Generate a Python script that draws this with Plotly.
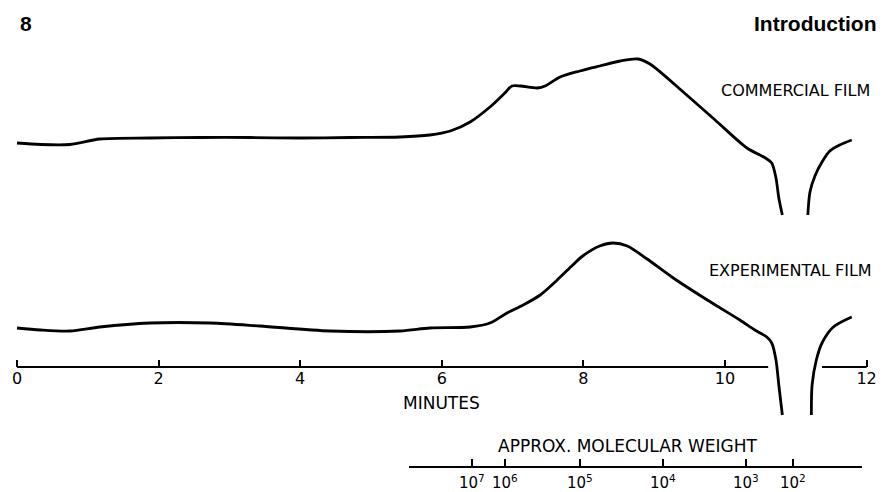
import plotly.graph_objects as go

# ---------- DATA ----------
# time in minutes, response in arbitrary detector units

commercial_t = [0.0, 0.33, 0.75, 1.17, 1.88, 2.59, 3.29, 4.00, 4.70, 5.41, 5.83,
                6.12, 6.40, 6.68, 6.89, 6.99, 7.11, 7.35, 7.46, 7.67, 7.95, 8.23,
                8.52, 8.77, 8.94, 9.41, 9.86, 10.31, 10.57, 10.66, 10.72, 10.76, 10.81]
commercial_r = [34.9, 34.75, 34.75, 35.3, 35.4, 35.45, 35.45, 35.4, 35.45, 35.5, 35.7,
                36.1, 37.0, 38.5, 39.9, 40.6, 40.6, 40.4, 40.6, 41.5, 42.1, 42.6,
                43.1, 43.3, 42.8, 40.0, 37.2, 34.4, 33.4, 32.9, 31.4, 29.4, 27.7]
commercial_t2 = [11.17, 11.20, 11.27, 11.37, 11.48, 11.62, 11.79]
commercial_r2 = [27.7, 30.0, 31.6, 33.0, 34.1, 34.7, 35.2]

experimental_t = [0.0, 0.33, 0.75, 1.17, 1.88, 2.73, 3.43, 4.42, 5.41, 5.83, 6.40,
                  6.68, 6.92, 7.15, 7.39, 7.63, 7.85, 7.99, 8.23, 8.42, 8.62, 8.90,
                  9.27, 9.75, 10.21, 10.42, 10.59, 10.66, 10.72, 10.76, 10.81]
experimental_r = [16.4, 16.2, 16.1, 16.5, 16.9, 16.9, 16.6, 16.1, 16.1, 16.4, 16.5,
                  16.9, 17.9, 18.7, 19.7, 21.2, 22.7, 23.6, 24.6, 24.9, 24.6, 23.3,
                  21.4, 19.2, 17.2, 16.2, 15.5, 14.9, 13.2, 10.7, 7.7]
experimental_t2 = [11.22, 11.23, 11.29, 11.37, 11.53, 11.79]
experimental_r2 = [7.7, 10.7, 13.2, 14.9, 16.5, 17.5]

minute_ticks = [0, 2, 4, 6, 8, 10, 12]

# molecular weight scale, positions in minutes
mw_pos = [6.43, 6.89, 7.95, 9.12, 10.30, 10.96]
mw_labels = ["10<sup>7</sup>", "10<sup>6</sup>", "10<sup>5</sup>",
             "10<sup>4</sup>", "10<sup>3</sup>", "10<sup>2</sup>"]

# ---------- LAYOUT CONSTANTS ----------
W, H = 890, 492
PX_PER_MIN = 70.8
X0_PX = 17
Y_TOP = 49.2            # response range 0..Y_TOP over the full height
AXIS_Y = 12.5           # minutes axis height in response units
AXIS_GAP = (10.61, 11.37)
MW_RANGE = (5.537, 11.935)
MW_AXIS_PX = 467

FONT = "DejaVu Sans"
LW = 2.8

fig = go.Figure()

line = dict(color="black", width=LW, shape="spline", smoothing=0.8)
for t, r in [(commercial_t, commercial_r), (commercial_t2, commercial_r2),
             (experimental_t, experimental_r), (experimental_t2, experimental_r2)]:
    fig.add_trace(go.Scatter(x=t, y=r, mode="lines", line=line,
                             hoverinfo="skip", showlegend=False))

# minutes axis line (broken where the curves pass through)
fig.add_trace(go.Scatter(
    x=[0, AXIS_GAP[0], None, AXIS_GAP[1], 12],
    y=[AXIS_Y, AXIS_Y, None, AXIS_Y, AXIS_Y],
    mode="lines", line=dict(color="black", width=2),
    hoverinfo="skip", showlegend=False))

# invisible trace so the molecular weight axis is drawn
fig.add_trace(go.Scatter(x=mw_pos, y=[0] * len(mw_pos), xaxis="x2",
                         mode="markers", marker=dict(opacity=0),
                         hoverinfo="skip", showlegend=False))

x_min = -X0_PX / PX_PER_MIN
x_max = (W - X0_PX) / PX_PER_MIN

fig.update_layout(
    width=W, height=H,
    margin=dict(l=0, r=0, t=0, b=0),
    plot_bgcolor="rgba(0,0,0,0)", paper_bgcolor="white",
    xaxis=dict(
        range=[x_min, x_max], domain=[0, 1],
        anchor="free", position=AXIS_Y / Y_TOP,
        showline=False, showgrid=False, zeroline=False,
        tickvals=minute_ticks, ticks="inside", ticklen=7, tickwidth=1.5,
        tickcolor="black",
        tickfont=dict(family=FONT, size=16, color="black"),
    ),
    xaxis2=dict(
        range=list(MW_RANGE),
        domain=[(X0_PX + MW_RANGE[0] * PX_PER_MIN) / W,
                (X0_PX + MW_RANGE[1] * PX_PER_MIN) / W],
        anchor="free", position=(H - MW_AXIS_PX) / H,
        showline=True, linecolor="black", linewidth=2,
        showgrid=False, zeroline=False,
        tickvals=mw_pos, showticklabels=False,
        ticks="inside", ticklen=7, tickwidth=1.5, tickcolor="black",
    ),
    yaxis=dict(range=[0, Y_TOP], domain=[0, 1], visible=False),
)

# molecular weight labels under the second scale
for p, lab in zip(mw_pos, mw_labels):
    fig.add_annotation(xref="x", yref="paper", x=p, y=(H - 482) / H,
                       text=lab, showarrow=False, xanchor="center",
                       yanchor="middle",
                       font=dict(family=FONT, size=15, color="black"))

# ---------- TEXT ----------
txt = dict(family=FONT, color="black")
annotations = [
    dict(x=6.0, y=8.9, text="MINUTES", font=dict(size=17, **txt)),
    dict(x=8.62, y=4.6, text="APPROX. MOLECULAR WEIGHT", font=dict(size=17, **txt)),
    dict(x=10.99, y=40.2, text="COMMERCIAL FILM", font=dict(size=16, **txt)),
    dict(x=10.93, y=22.2, text="EXPERIMENTAL FILM", font=dict(size=16, **txt)),
]
for a in annotations:
    fig.add_annotation(xref="x", yref="y", showarrow=False,
                       xanchor="center", yanchor="middle", **a)

head = dict(family="Liberation Sans", size=21, color="black")
fig.add_annotation(xref="paper", yref="paper", x=18 / W, y=1 - 23 / H,
                   text="<b>8</b>", showarrow=False, xanchor="left",
                   yanchor="middle", font=head)
fig.add_annotation(xref="paper", yref="paper", x=878 / W, y=1 - 23 / H,
                   text="<b>Introduction</b>", showarrow=False, xanchor="right",
                   yanchor="middle", font=head)

# the page body has a default margin; remove it so the figure fills the window
fig.write_html("out.html", config={"displayModeBar": False},
               post_script="document.body.style.margin='0px';")
